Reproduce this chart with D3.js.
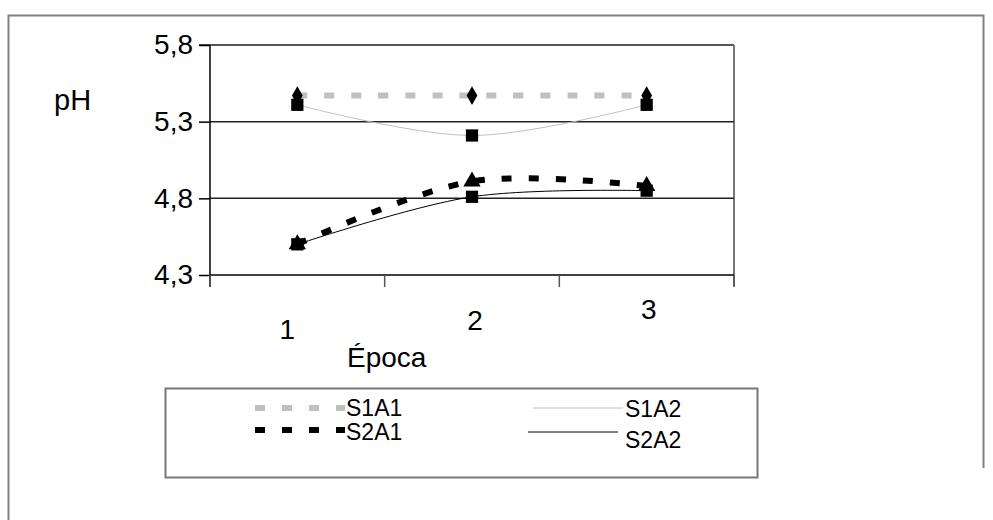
<!DOCTYPE html>
<html>
<head>
  <title>pH por Época</title>
  <script type="text/javascript" src="https://cdn.jsdelivr.net/npm/d3@7"></script>
  <style>
    body { margin: 0; background: #fff; }
    svg { display: block; font-family: "Liberation Sans", Arial, sans-serif; }
  </style>
</head>
<body>
  <script type="text/javascript">
    // Data
    const epocas = ["1", "2", "3"];
    const yTicks = [4.3, 4.8, 5.3, 5.8];
    const seriesNames = ["S1A1", "S1A2", "S2A1", "S2A2"];
    const s1a1 = [5.47, 5.47, 5.47];
    const s1a2 = [5.41, 5.21, 5.41];
    const s2a1 = [4.5, 4.91, 4.88];
    const s2a2 = [4.5, 4.81, 4.85];

    const w = 993;
    const h = 520;

    const svg = d3.select("body").append("svg")
      .attr("width", w)
      .attr("height", h);

    // outer frame
    svg.append("path")
      .attr("d", "M8.5,520 L8.5,15.5 L983.5,15.5 L983.5,468")
      .attr("fill", "none")
      .attr("stroke", "#808080")
      .attr("stroke-width", 2);

    // scales
    const xScale = d3.scaleBand()
      .domain(epocas)
      .range([210, 734]);

    const yScale = d3.scaleLinear()
      .domain([4.3, 5.8])
      .range([275, 45]);

    const xc = function (i) {
      return xScale(epocas[i]) + xScale.bandwidth() / 2;
    };

    // plot border top / right
    svg.append("line")
      .attr("x1", 199).attr("x2", 734)
      .attr("y1", yScale(5.8)).attr("y2", yScale(5.8))
      .attr("stroke", "#555").attr("stroke-width", 2);
    svg.append("line")
      .attr("x1", 734).attr("x2", 734)
      .attr("y1", yScale(5.8)).attr("y2", 286)
      .attr("stroke", "#777").attr("stroke-width", 2);

    // gridlines
    svg.selectAll("line.grid")
      .data(yTicks.filter(function (d) { return d > 4.3 && d < 5.8; }))
      .enter()
      .append("line")
      .attr("class", "grid")
      .attr("x1", 210).attr("x2", 734)
      .attr("y1", function (d) { return yScale(d); })
      .attr("y2", function (d) { return yScale(d); })
      .attr("stroke", "#222").attr("stroke-width", 1.5);

    // y-akse
    const yAxis = d3.axisLeft(yScale)
      .tickValues(yTicks)
      .tickSize(11)
      .tickPadding(6)
      .tickFormat(function (d) { return d3.format(".1f")(d).replace(".", ","); });
    const gy = svg.append("g")
      .attr("transform", "translate(210,0)")
      .call(yAxis);
    gy.select(".domain").remove();
    gy.append("line")
      .attr("x1", 0).attr("x2", 0)
      .attr("y1", 45).attr("y2", 287)
      .attr("stroke", "#000").attr("stroke-width", 1.5);
    gy.selectAll("text")
      .attr("font-size", 28)
      .attr("fill", "#000")
      .attr("font-family", "Liberation Sans, Arial, sans-serif");
    gy.selectAll(".tick line").attr("stroke-width", 1.5);

    // x-akse
    svg.append("line")
      .attr("x1", 210).attr("x2", 734)
      .attr("y1", 275).attr("y2", 275)
      .attr("stroke", "#000").attr("stroke-width", 1.5);
    const xTickPos = [210].concat(epocas.map(function (d) { return xScale(d) + xScale.bandwidth(); }));
    svg.selectAll("line.xtick")
      .data(xTickPos)
      .enter()
      .append("line")
      .attr("class", "xtick")
      .attr("x1", function (d) { return d; })
      .attr("x2", function (d) { return d; })
      .attr("y1", 275).attr("y2", 287)
      .attr("stroke", "#555").attr("stroke-width", 1.5);

    // staggered x labels (as in the original)
    const xLabelDx = [-10, 3, 2];
    const xLabelY = [339, 330, 319];
    svg.selectAll("text.xlab")
      .data(epocas)
      .enter()
      .append("text")
      .attr("class", "xlab")
      .attr("x", function (d, i) { return xc(i) + xLabelDx[i]; })
      .attr("y", function (d, i) { return xLabelY[i]; })
      .attr("text-anchor", "middle")
      .attr("font-size", 28)
      .text(function (d) { return d; });

    svg.append("text")
      .attr("x", 347).attr("y", 367)
      .attr("font-size", 28)
      .text("Época");

    svg.append("text")
      .attr("x", 54).attr("y", 110)
      .attr("font-size", 29)
      .text("pH");

    // lines
    const lineSmooth = d3.line()
      .x(function (d, i) { return xc(i); })
      .y(function (d) { return yScale(d); })
      .curve(d3.curveCatmullRom.alpha(0.5));

    const styles = [
      { data: s1a1, color: "#c0c0c0", width: 6, dash: "10,17" },
      { data: s1a2, color: "#c0c0c0", width: 1, dash: null },
      { data: s2a1, color: "#000", width: 6, dash: "10,17" },
      { data: s2a2, color: "#000", width: 1, dash: null }
    ];

    svg.selectAll("path.serie")
      .data(styles)
      .enter()
      .append("path")
      .attr("class", "serie")
      .attr("d", function (d) { return lineSmooth(d.data); })
      .attr("fill", "none")
      .attr("stroke", function (d) { return d.color; })
      .attr("stroke-width", function (d) { return d.width; })
      .attr("stroke-dasharray", function (d) { return d.dash; });

    // markers
    const symbols = [d3.symbolDiamond, d3.symbolSquare, d3.symbolTriangle, d3.symbolSquare];
    const sizes = [100, 150, 130, 150];
    styles.forEach(function (s, k) {
      svg.selectAll("path.m" + k)
        .data(s.data)
        .enter()
        .append("path")
        .attr("class", "m" + k)
        .attr("transform", function (d, i) { return "translate(" + xc(i) + "," + yScale(d) + ")"; })
        .attr("d", d3.symbol().type(symbols[k]).size(sizes[k]))
        .attr("fill", "#000");
    });

    // legend
    svg.append("rect")
      .attr("x", 165.5).attr("y", 388.5)
      .attr("width", 592).attr("height", 89)
      .attr("fill", "#fff")
      .attr("stroke", "#777").attr("stroke-width", 2);

    // S1A1, S1A2, S2A1, S2A2
    const legX = [255, 533, 255, 528];
    const legY = [408, 408, 430, 432];
    const legTextX = [346, 625, 346, 625];
    const legTextY = [416, 417, 440, 448];
    styles.forEach(function (s, k) {
      svg.append("line")
        .attr("x1", legX[k]).attr("x2", legX[k] + 90)
        .attr("y1", legY[k]).attr("y2", legY[k])
        .attr("stroke", s.color)
        .attr("stroke-width", s.width)
        .attr("stroke-dasharray", s.dash);
      svg.append("text")
        .attr("x", legTextX[k]).attr("y", legTextY[k])
        .attr("font-size", 23)
        .text(seriesNames[k]);
    });
  </script>
</body>
</html>
